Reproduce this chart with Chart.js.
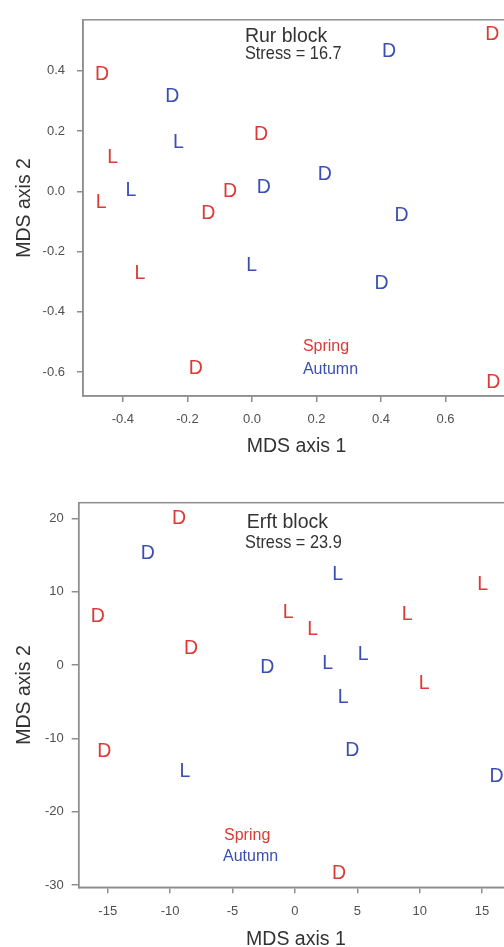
<!DOCTYPE html>
<html>
<head>
<meta charset="utf-8">
<script src="https://cdn.jsdelivr.net/npm/chart.js@4.4.0/dist/chart.umd.min.js"></script>
<style>
  html, body { margin: 0; padding: 0; background: #fff; overflow: hidden; width: 504px; height: 947px; }
  .panel { position: absolute; left: 0; width: 540px; }
  #rur-wrap { top: 0; height: 470px; }
  #erft-wrap { top: 470px; height: 490px; }
</style>
</head>
<body>
<div class="panel" id="rur-wrap"><canvas id="rur-chart"></canvas></div>
<div class="panel" id="erft-wrap"><canvas id="erft-chart"></canvas></div>
<script>
// Rur block - spring samples (red)
const rurSpringX = [-0.465, 0.745, 0.028, -0.432, -0.068, -0.467, -0.135, -0.347, -0.174, 0.748];
const rurSpringY = [0.394, 0.525, 0.194, 0.116, 0.003, -0.033, -0.069, -0.268, -0.582, -0.630];
const rurSpringSite = ['D', 'D', 'D', 'L', 'D', 'L', 'D', 'L', 'D', 'D'];

// Rur block - autumn samples (blue)
const rurAutumnX = [-0.247, 0.425, -0.228, 0.226, -0.375, 0.037, 0.464, -0.001, 0.402];
const rurAutumnY = [0.320, 0.469, 0.166, 0.061, 0.006, 0.019, -0.075, -0.240, -0.301];
const rurAutumnSite = ['D', 'D', 'L', 'D', 'L', 'D', 'D', 'L', 'D'];

// Erft block - spring samples (red)
const erftSpringX = [-9.29, -15.8, -8.33, 15.05, -0.53, 1.43, 9.01, 10.37, -15.28, 3.53];
const erftSpringY = [20.2, 6.8, 2.4, 11.2, 7.3, 5.1, 7.1, -2.3, -11.6, -28.2];
const erftSpringSite = ['D', 'D', 'D', 'L', 'L', 'L', 'L', 'L', 'D', 'D'];

// Erft block - autumn samples (blue)
const erftAutumnX = [-11.8, -2.21, 3.43, 5.48, 2.63, 3.88, 4.60, -8.81, 16.17];
const erftAutumnY = [15.4, -0.1, 12.6, 1.7, 0.4, -4.2, -11.4, -14.3, -15.0];
const erftAutumnSite = ['D', 'D', 'L', 'L', 'L', 'L', 'D', 'L', 'D'];

// Tick labels
const rurXTicks = [-0.4, -0.2, 0.0, 0.2, 0.4, 0.6];
const rurYTicks = [-0.6, -0.4, -0.2, 0.0, 0.2, 0.4];
const erftXTicks = [-15, -10, -5, 0, 5, 10, 15];
const erftYTicks = [-30, -20, -10, 0, 10, 20];

const RED = '#da3b36';
const BLUE = '#3b4fb2';
const AXIS_GREY = '#8e8e8e';
const SANS = '"Liberation Sans", Arial, sans-serif';

function toPoints(xs, ys) {
    return xs.map((x, i) => ({ x: x, y: ys[i] }));
}

// Draws the sample letters (D / L) at each point position
const letterPlugin = {
    id: 'letters',
    afterDatasetsDraw(chart) {
        const ctx = chart.ctx;
        ctx.save();
        ctx.font = '19.5px ' + SANS;
        ctx.textAlign = 'center';
        ctx.textBaseline = 'alphabetic';
        chart.data.datasets.forEach((ds, i) => {
            const meta = chart.getDatasetMeta(i);
            ctx.fillStyle = ds.letterColor;
            meta.data.forEach((pt, j) => {
                ctx.fillText(ds.letters[j], pt.x, pt.y + 7);
            });
        });
        ctx.restore();
    }
};

// Box around the plotting region (R style bty = "o")
const boxPlugin = {
    id: 'box',
    beforeDatasetsDraw(chart) {
        const { ctx, chartArea } = chart;
        ctx.save();
        ctx.strokeStyle = AXIS_GREY;
        ctx.lineWidth = 1.5;
        ctx.strokeRect(chartArea.left, chartArea.top,
            chartArea.right - chartArea.left, chartArea.bottom - chartArea.top);
        ctx.restore();
    }
};

// Text notes placed in data coordinates, like R's text()
const notesPlugin = {
    id: 'notes',
    afterDatasetsDraw(chart, args, opts) {
        const ctx = chart.ctx;
        const xs = chart.scales.x;
        const ys = chart.scales.y;
        (opts.items || []).forEach(item => {
            ctx.save();
            ctx.textAlign = 'left';
            ctx.textBaseline = 'middle';
            ctx.font = item.font;
            ctx.fillStyle = item.color;
            ctx.translate(xs.getPixelForValue(item.x), ys.getPixelForValue(item.y));
            // narrow lettering for the stress line
            ctx.scale(item.stretch || 1, 1);
            ctx.fillText(item.text, 0, 0);
            ctx.restore();
        });
    }
};

function axis(min, max, tickValues, decimals, titleText, fitSize, isY, titlePad, tickPad, tickLen) {
    return {
        type: 'linear',
        min: min,
        max: max,
        afterBuildTicks: function(scale) {
            scale.ticks = tickValues.map(v => ({ value: v }));
        },
        afterFit: function(scale) {
            if (isY) {
                scale.width = fitSize;
            } else {
                scale.height = fitSize;
            }
        },
        border: { display: true, color: AXIS_GREY, width: 1.5 },
        grid: {
            drawOnChartArea: false,
            drawTicks: true,
            tickLength: tickLen,
            color: AXIS_GREY,
            lineWidth: 1.5
        },
        ticks: {
            color: '#505050',
            font: { family: SANS, size: 13 },
            padding: tickPad,
            maxRotation: 0,
            autoSkip: false,
            callback: function(value) {
                return value.toFixed(decimals);
            }
        },
        title: {
            display: true,
            text: titleText,
            color: '#333',
            font: { family: SANS, size: 19.5 },
            padding: isY ? { top: titlePad, bottom: 0 } : { top: 0, bottom: titlePad }
        }
    };
}

function makeChart(canvasId, spring, autumn, scales, padding, notes) {
    const ctx = document.getElementById(canvasId).getContext('2d');
    return new Chart(ctx, {
        type: 'scatter',
        data: {
            datasets: [
                {
                    label: 'Spring',
                    data: spring.points,
                    letters: spring.letters,
                    letterColor: RED,
                    pointRadius: 0,
                    pointHoverRadius: 0
                },
                {
                    label: 'Autumn',
                    data: autumn.points,
                    letters: autumn.letters,
                    letterColor: BLUE,
                    pointRadius: 0,
                    pointHoverRadius: 0
                }
            ]
        },
        options: {
            responsive: true,
            maintainAspectRatio: false,
            animation: false,
            devicePixelRatio: 1,
            layout: { padding: padding },
            plugins: {
                legend: { display: false },
                tooltip: { enabled: false },
                notes: { items: notes }
            },
            scales: scales
        },
        plugins: [boxPlugin, letterPlugin, notesPlugin]
    });
}

// Top panel: Rur block
makeChart('rur-chart',
    { points: toPoints(rurSpringX, rurSpringY), letters: rurSpringSite },
    { points: toPoints(rurAutumnX, rurAutumnY), letters: rurAutumnSite },
    {
        x: axis(-0.5237, 0.8, rurXTicks, 1, 'MDS axis 1', 74, false, 11.6, 10, 6),
        y: axis(-0.6795, 0.569, rurYTicks, 1, 'MDS axis 2', 83, true, 12.5, 12, 6)
    },
    { left: 0, top: 19, right: 30, bottom: 0 },
    [
        { text: 'Rur block', x: -0.0217, y: 0.5126, font: '19.5px ' + SANS, color: '#333' },
        { text: 'Stress = 16.7', x: -0.0217, y: 0.455, font: '19px ' + SANS, color: '#333', stretch: 0.86 },
        { text: 'Spring', x: 0.158, y: -0.516, font: '16px ' + SANS, color: RED },
        { text: 'Autumn', x: 0.158, y: -0.593, font: '16px ' + SANS, color: BLUE }
    ]
);

// Bottom panel: Erft block
makeChart('erft-chart',
    { points: toPoints(erftSpringX, erftSpringY), letters: erftSpringSite },
    { points: toPoints(erftAutumnX, erftAutumnY), letters: erftAutumnSite },
    {
        x: axis(-17.33, 17.5, erftXTicks, 0, 'MDS axis 1', 72.7, false, 8.3, 10, 6),
        y: axis(-30.31, 22.13, erftYTicks, 0, 'MDS axis 2', 78.7, true, 12.5, 8, 7)
    },
    { left: 0, top: 32.7, right: 26.8, bottom: 0 },
    [
        { text: 'Erft block', x: -3.86, y: 19.46, font: '19.5px ' + SANS, color: '#333' },
        { text: 'Stress = 23.9', x: -4.0, y: 16.73, font: '19px ' + SANS, color: '#333', stretch: 0.86 },
        { text: 'Spring', x: -5.68, y: -23.32, font: '16px ' + SANS, color: RED },
        { text: 'Autumn', x: -5.76, y: -26.14, font: '16px ' + SANS, color: BLUE }
    ]
);
</script>
</body>
</html>
